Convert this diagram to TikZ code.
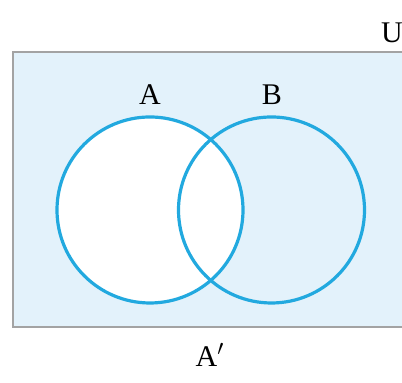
\documentclass[tikz,border=0pt]{standalone}
\usepackage{fontspec}
\setmainfont{Liberation Serif}
\usepackage{tikz}
\definecolor{setblue}{HTML}{22A9DF}
\definecolor{univfill}{HTML}{E3F2FB}
\definecolor{univline}{HTML}{A3A3A3}

\begin{document}
\begin{tikzpicture}[x=0.5pt,y=0.5pt,
      set node/.style={circle,draw=setblue,line width=1.6pt,minimum size=93pt,inner sep=0pt},
      set label/.style={font=\fontsize{15}{18}\selectfont,inner sep=0pt}]
      \useasboundingbox (0,0) rectangle (402,383);
      % universal set
      \draw[univline,line width=1pt,fill=univfill] (13,56) rectangle (408,331);
      \node[set node,fill=white] (setA) at (150,173) {};
      \node[set node] (setB) at (271.5,173) {};

      \node[set label] (labA) at (150,288) {A};
      \node[set label] (labB) at (272,288) {B};
      \node[set label] (labU) at (392,350) {U};
      \node[set label] (labAc) at (210,28) {A$'$};
    \end{tikzpicture}
\end{document}
